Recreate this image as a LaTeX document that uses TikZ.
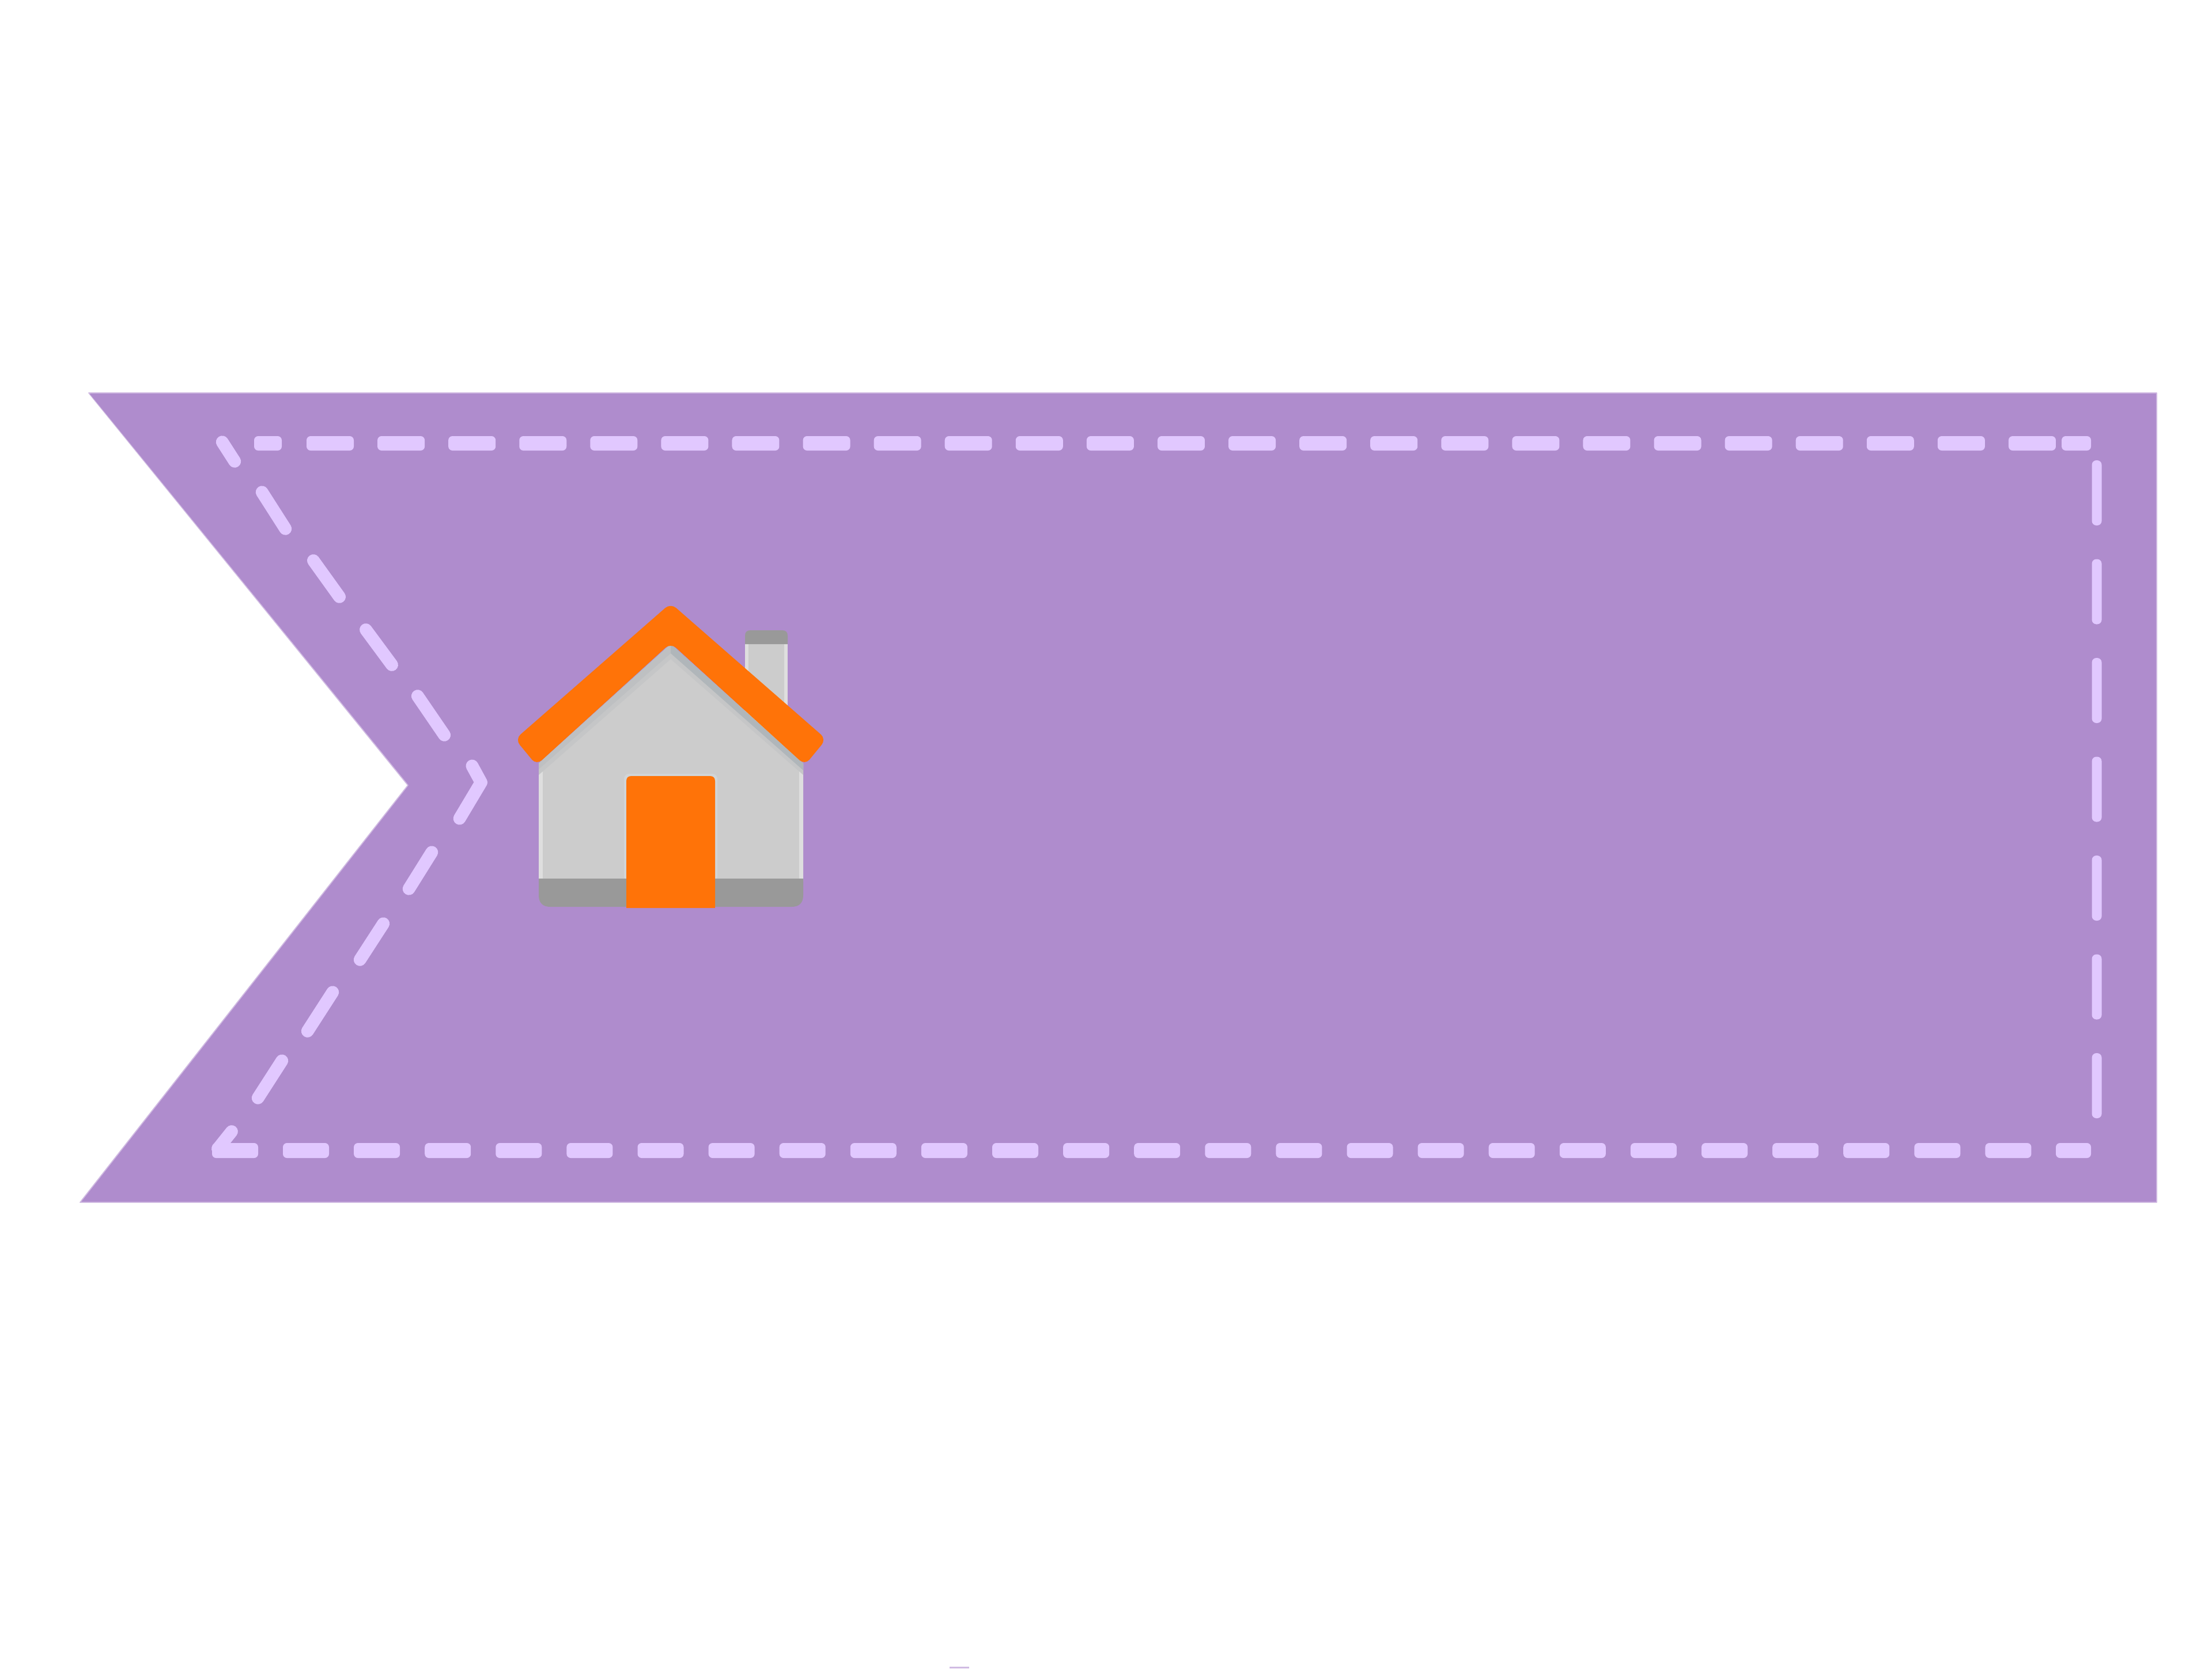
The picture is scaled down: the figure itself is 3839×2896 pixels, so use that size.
\documentclass[tikz,border=0pt]{standalone}
\definecolor{banner}{RGB}{175,140,205}
\definecolor{bannerEdge}{RGB}{208,186,226}
\definecolor{stitch}{RGB}{225,200,255}
\definecolor{wall}{RGB}{204,204,204}
\definecolor{wallEdge}{RGB}{222,222,222}
\definecolor{band}{RGB}{153,153,153}
\definecolor{roofc}{RGB}{255,115,8}
\definecolor{halo}{RGB}{209,213,215}
\definecolor{shadeA}{RGB}{190,192,194}
\definecolor{shadeB}{RGB}{176,182,186}
\tikzset{
  hdash/.style={fill=stitch,rounded corners=2pt},
  vdash/.style={fill=stitch,rounded corners=2.2pt},
  ddash/.style={draw=stitch,line width=6.2pt,line cap=round,line join=round,shorten <=5*0.2845pt,shorten >=5*0.2845pt},
  ddashfree/.style={draw=stitch,line width=6.2pt,line cap=round,line join=round}
}
\begin{document}
\begin{tikzpicture}[x=0.01cm,y=-0.01cm]
\useasboundingbox (0,0) rectangle (3839,2896);
\fill[white] (0,0) rectangle (3839,2896);
% banner
\fill[banner,draw=bannerEdge,line width=0.5pt,line join=round] (154,682) -- (3743,682) -- (3743,2087) -- (139,2087) -- (708,1363) -- cycle;
\fill[banner] (156,684) -- (3741,684) -- (3741,2085) -- (143,2085) -- (710,1363) -- cycle;
% top stitches
\fill[hdash] (441,757) rectangle (489,782);
\foreach \k in {0,...,24} {
  \fill[hdash] ({532+123.08*\k},757) rectangle ({614+123.08*\k},782);
}
\fill[hdash] (3578,757) rectangle (3629,782);
% bottom stitches
\foreach \k in {0,...,24} {
  \fill[hdash] ({491+123.1*\k},1984) rectangle ({571+123.1*\k},2010);
}
\fill[hdash] (3568,1984) rectangle (3629,2010);
% right stitches
\foreach \k in {0,...,6} {
  \fill[vdash] (3630.5,{799+171.5*\k}) rectangle (3647.5,{912+171.5*\k});
}
% left stitches
\draw[ddash] (383,763) -- (410,805);
\draw[ddash] (452,850) -- (498,922);
\draw[ddash] (541,969) -- (592,1040);
\draw[ddash] (632,1089) -- (683,1158);
\draw[ddash] (722,1204) -- (774,1280);
\draw[ddash] (817,1325) -- (835,1358) -- (795,1425);
\draw[ddash] (752,1475) -- (707,1547);
\draw[ddash] (668,1599) -- (622,1670);
\draw[ddash] (580,1718) -- (531,1794);
\draw[ddash] (492,1837) -- (445,1910);
\draw[ddashfree] (402,1964) -- (378,1994);
\fill[hdash] (368,1984) rectangle (448,2010);
% chimney
\fill[wall] (1293,1118) rectangle (1367,1290);
\fill[wallEdge] (1293,1118) rectangle (1299,1290);
\fill[wallEdge] (1361,1118) rectangle (1367,1290);
\fill[band] (1293,1118) -- (1293,1104) .. controls (1293,1097) and (1296,1094) .. (1303,1094) -- (1357,1094) .. controls (1364,1094) and (1367,1097) .. (1367,1104) -- (1367,1118) -- cycle;
% body
\fill[wall] (935,1325) -- (1164,1118) -- (1394,1325) -- (1394,1530) -- (935,1530) -- cycle;
\fill[wallEdge] (935,1338) rectangle (942,1525);
\fill[wallEdge] (1387,1338) rectangle (1394,1525);
\fill[band] (935,1525) -- (935,1554) .. controls (935,1567) and (942,1574) .. (955,1574) -- (1374,1574) .. controls (1387,1574) and (1394,1567) .. (1394,1554) -- (1394,1525) -- cycle;
% shadow under the roof
\fill[wall!50!shadeA] (935,1325) -- (1164,1118) -- (1394,1325) -- (1394,1345) -- (1164,1144) -- (935,1345) -- cycle;
\fill[shadeA] (935,1325) -- (1164,1118) -- (1164,1134) -- (935,1335) -- cycle;
\fill[shadeB] (1394,1325) -- (1164,1118) -- (1164,1134) -- (1394,1337) -- cycle;
% door
\fill[halo,rounded corners=2.5pt] (1083,1343) rectangle (1245,1530);
\fill[band] (1083,1525) rectangle (1245,1574);
\fill[roofc] (1087,1576) -- (1087,1356) .. controls (1087,1350) and (1090,1347) .. (1096,1347) -- (1232,1347) .. controls (1238,1347) and (1241,1350) .. (1241,1356) -- (1241,1576) -- cycle;
% roof
\fill[roofc,rounded corners=3.5pt] (894,1283) -- (1164,1047) -- (1434,1283) -- (1397,1328) -- (1164,1116) -- (931,1328) -- cycle;
% speck at the lower edge
\fill[bannerEdge] (1648,2893) rectangle (1682,2896);
\end{tikzpicture}
\end{document}
